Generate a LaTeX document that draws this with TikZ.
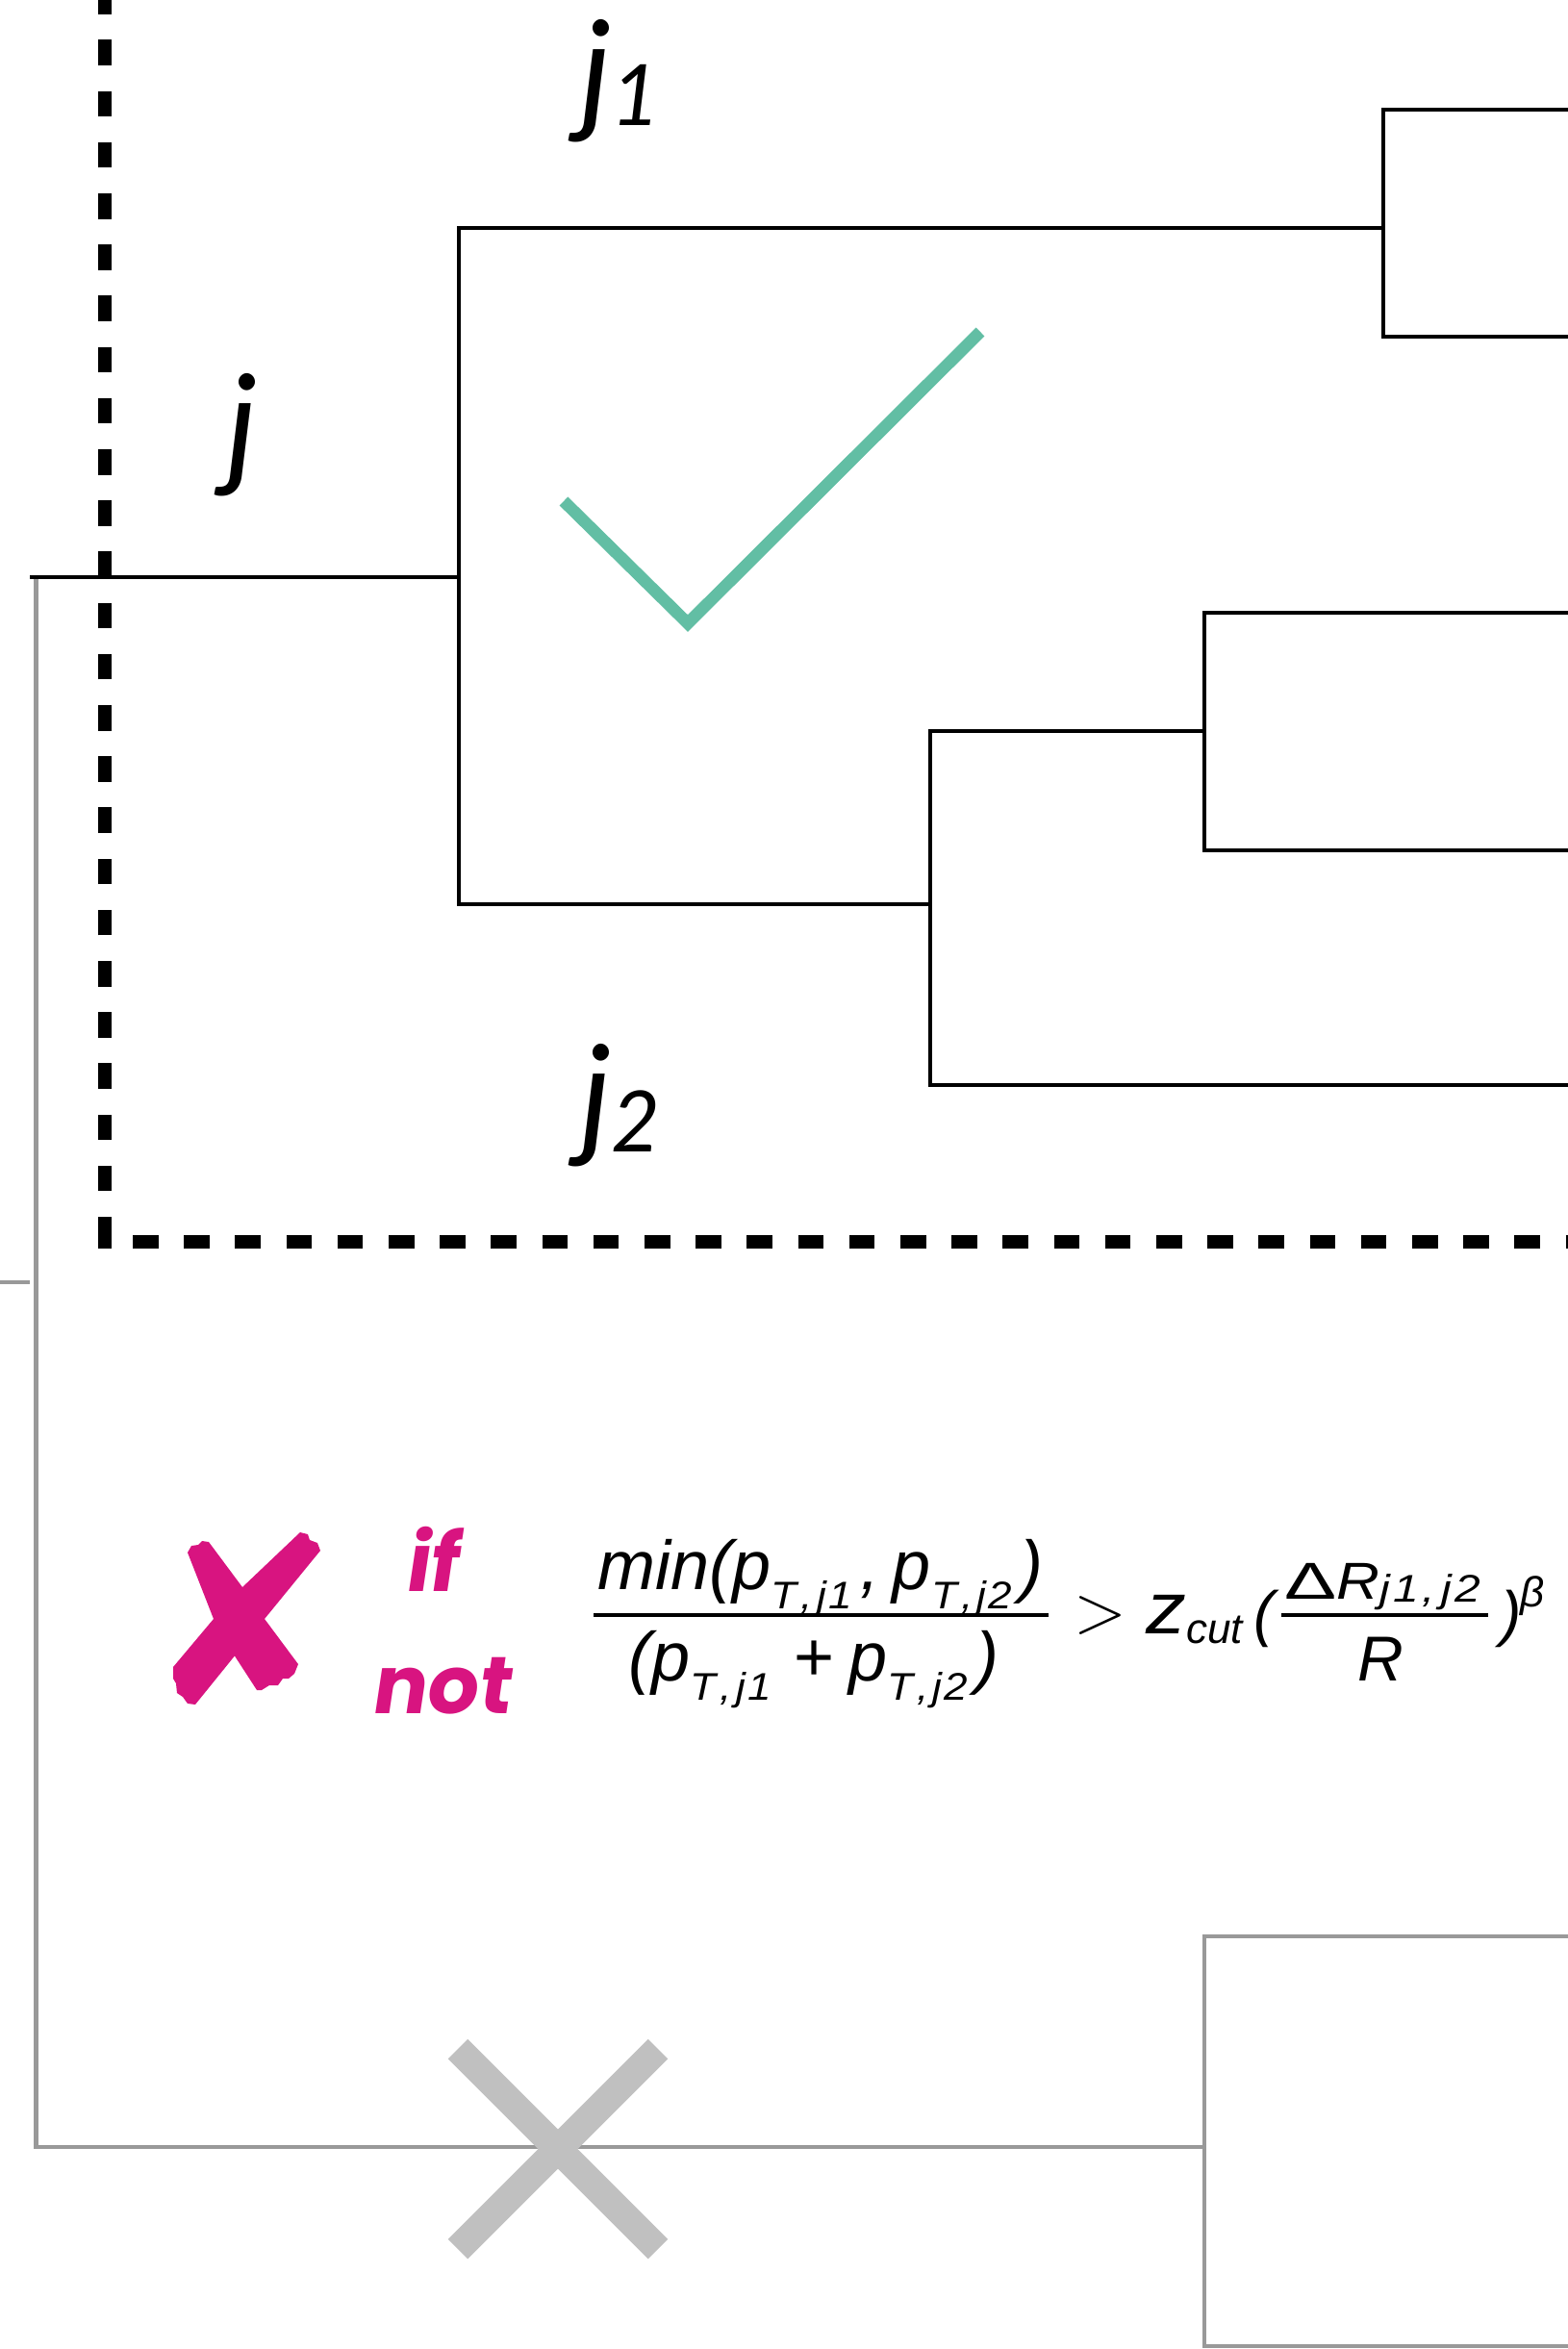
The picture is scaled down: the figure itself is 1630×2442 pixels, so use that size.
\documentclass[tikz,border=0pt]{standalone}
\usepackage{fontspec}
\usepackage{graphicx}
\newfontfamily\hv{Liberation Sans}
\newfontfamily\lab{Lato}
\newfontfamily\hand{Poppins}[FakeSlant=0.15,BoldFeatures={FakeSlant=0.15}]
\newcommand\fsz[1]{\fontsize{#1}{#1}\selectfont}
\newcommand\psubA{\raisebox{-20pt}{\scalebox{1.1}[1]{\fsz{40}T\kern4pt,\kern4pt j\kern2pt 1}}}
\newcommand\psubB{\raisebox{-20pt}{\scalebox{1.1}[1]{\fsz{40}T\kern4pt,\kern4pt j\kern2pt 2}}}
\definecolor{pinkx}{RGB}{216,20,128}
\definecolor{tealc}{RGB}{98,190,164}
\definecolor{grayline}{RGB}{153,153,153}
\definecolor{grayx}{RGB}{192,192,192}
\begin{document}
\begin{tikzpicture}[x=1pt,y=-1pt,
  tree/.style={line width=4.5pt,black,line join=miter},
  gtree/.style={line width=4.5pt,grayline,line join=miter},
  dashbox/.style={line width=13.3pt,black,dash pattern=on 26.6pt off 26.6pt},
  lbl/.style={inner sep=0pt,anchor=base west,font=\lab\itshape\fsz{140}},
  eq/.style={inner sep=0pt,font=\hv\itshape\fsz{72}},
  handtxt/.style={inner sep=0pt,anchor=base west,text=pinkx,font=\hand\bfseries\fsz{84}}]
\useasboundingbox (0,0) rectangle (1630,2442);

% coordinates of the tree
\coordinate (root) at (31,600);
\coordinate (n0)  at (477,600);
\coordinate (n0t) at (477,237);
\coordinate (n0b) at (477,940);
\coordinate (n1)  at (1438,237);
\coordinate (n1t) at (1438,114);
\coordinate (n1b) at (1438,350);
\coordinate (l1)  at (1640,114);
\coordinate (l2)  at (1640,350);
\coordinate (n2)  at (967,940);
\coordinate (n2t) at (967,760);
\coordinate (n2b) at (967,1128);
\coordinate (l5)  at (1640,1128);
\coordinate (n3)  at (1252,760);
\coordinate (n3t) at (1252,637);
\coordinate (n3b) at (1252,884);
\coordinate (l3)  at (1640,637);
\coordinate (l4)  at (1640,884);
% gray branch
\coordinate (g0)  at (37.5,602);
\coordinate (g1)  at (37.5,2232);
\coordinate (g2)  at (1252,2232);
\coordinate (g2t) at (1252,2013);
\coordinate (g2b) at (1252,2439);
\coordinate (g3)  at (1640,2013);
\coordinate (g4)  at (1640,2439);
\coordinate (tk0) at (0,1333);
\coordinate (tk1) at (31,1333);

% gray branch
\draw[gtree] (g0) -- (g1) -- (g2);
\draw[gtree] (g3) -- (g2t) -- (g2b) -- (g4);
\draw[gtree] (tk0) -- (tk1);
% gray cross
\draw[grayx,line width=29pt] (476,2130) -- (684,2338);
\draw[grayx,line width=29pt] (684,2130) -- (476,2338);

% black tree
\draw[tree] (root) -- (n0);
\draw[tree] (n1) -- (n0t) -- (n0b) -- (n2);
\draw[tree] (l1) -- (n1t) -- (n1b) -- (l2);
\draw[tree] (n3) -- (n2t) -- (n2b) -- (l5);
\draw[tree] (l3) -- (n3t) -- (n3b) -- (l4);

% dashed box
\draw[dashbox] (109,1291.6) -- (109,-30);
\fill[black] (102.35,1291) rectangle (115.65,1297.6);
\draw[dashbox] (138,1291) -- (1660,1291);

% check mark
\draw[tealc,line width=12.5pt,line join=miter] (586,521) -- (715,648) -- (1019,345);

% labels
\node[lbl] (lj)  at (235,490)  {j};
\node[lbl] (lj1) at (603,122)  {j\raisebox{-8pt}{\fsz{88}1}};
\node[lbl] (lj2) at (603,1187) {j\raisebox{-10pt}{\fsz{88}2}};

% pink cross
\fill[pinkx] (195,1614) -- (199,1607) -- (206,1606) -- (210,1602) -- (217,1603)
  -- (252,1650) -- (275,1683) -- (310,1730) -- (306,1740) -- (300,1745) -- (294,1745)
  -- (289,1752) -- (280,1752) -- (272,1757) -- (267,1757) -- (243,1720) -- (222,1683) -- cycle;
\fill[pinkx] (312,1593) -- (320,1595) -- (322,1601) -- (330,1604) -- (333,1612)
  -- (275,1683) -- (203,1772) -- (195,1771) -- (190,1764) -- (184,1760) -- (183,1750)
  -- (180,1745) -- (180,1733) -- (222,1683) -- (252,1650) -- cycle;
\node[handtxt] (tif)  at (420,1654) {if};
\node[handtxt] (tnot) at (385,1781) {not};

% formula
\node[eq,anchor=base] (num1) at (853,1652) {min(p\psubA\kern8pt,\kern14pt p\psubB\kern8pt)};
\node[eq,anchor=base] (den1) at (846,1747) {(p\psubA\kern24pt{\upshape+}\kern14pt p\psubB\kern8pt)};
\coordinate (r1a) at (617,1679);
\coordinate (r1b) at (1090,1679);
\draw[line width=3.3pt] (r1a) -- (r1b);
\node[inner sep=0pt] (gt) at (1144,1680) {\rmfamily\fsz{72}>};
\node[eq,anchor=base west,font=\hv\itshape\fsz{76}] (z) at (1191,1698) {\scalebox{1.1}[1]{z}\raisebox{-10pt}{\fsz{44}cut}};
\node[eq,anchor=base west,font=\hv\itshape\fsz{64}] (lp) at (1303,1699) {(};
\node[eq,anchor=base west,font=\hv\itshape\fsz{54}] (num2) at (1335,1662)
  {{\upshape\scalebox{1.5}[1]{Δ}}\scalebox{1.15}[1]{R}\raisebox{-3pt}{\scalebox{1.2}[1]{\fsz{40}j\kern3pt 1\kern3pt,\kern5pt j\kern3pt 2}}};
\coordinate (r2a) at (1332,1679);
\coordinate (r2b) at (1547,1679);
\draw[line width=3.3pt] (r2a) -- (r2b);
\node[eq,anchor=base west,font=\hv\itshape\fsz{66}] (den2) at (1411,1747) {R};
\node[eq,anchor=base west,font=\hv\itshape\fsz{64}] (rp) at (1560,1699) {)};
\node[eq,anchor=base west,font=\hv\itshape\fsz{44}] (beta) at (1580,1670) {β};
\end{tikzpicture}
\end{document}
